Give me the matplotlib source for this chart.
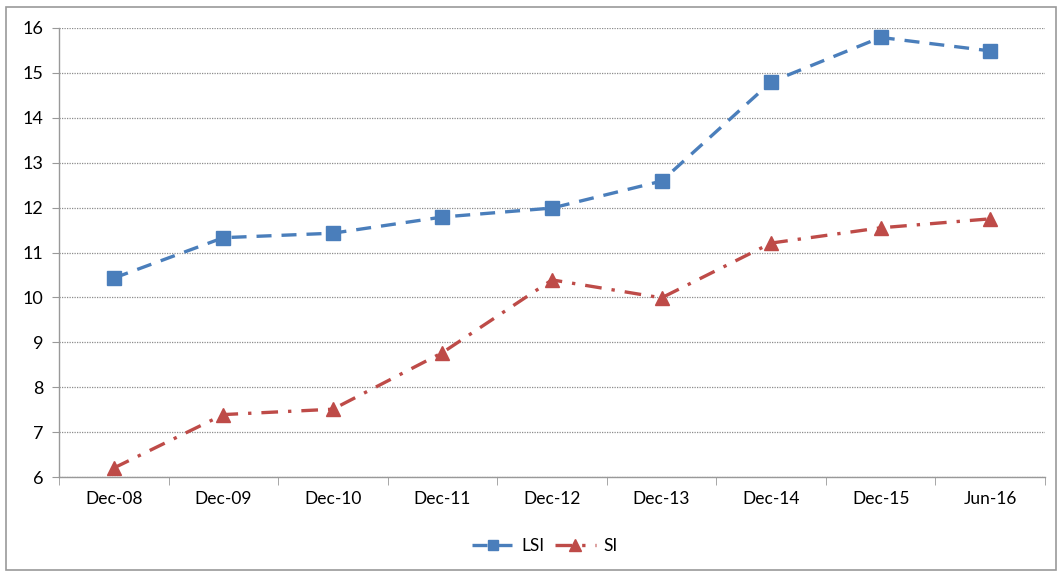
import matplotlib
matplotlib.use("Agg")
import matplotlib.pyplot as plt
from matplotlib.patches import Rectangle
import numpy as np

categories = ["Dec-08", "Dec-09", "Dec-10", "Dec-11", "Dec-12", "Dec-13", "Dec-14", "Dec-15", "Jun-16"]
lsi = [10.43, 11.33, 11.43, 11.79, 11.99, 12.59, 14.80, 15.79, 15.49]
si = [6.20, 7.39, 7.51, 8.77, 10.39, 9.99, 11.21, 11.55, 11.75]
y_ticks = list(range(6, 17))

plt.rcParams['font.family'] = ['Lato', 'DejaVu Sans']

W, H, DPI = 1057, 572, 100
fig = plt.figure(figsize=(W / DPI, H / DPI), dpi=DPI)
ax = fig.add_axes([59 / W, 1 - 477 / H, (1045 - 59) / W, (477 - 28) / H])

x = np.arange(len(categories))
blue = "#4a7ebb"
red = "#be4b48"

ax.plot(x, lsi, color=blue, lw=2.4, dashes=(4.5, 3), marker="s", ms=9.5,
        markerfacecolor=blue, markeredgecolor=blue, label="LSI")
ax.plot(x, si, color=red, lw=2.4, dashes=(5, 3, 1, 3), marker="^", ms=10,
        markerfacecolor=red, markeredgecolor=red, label="SI")

ax.set_xlim(-0.5, len(categories) - 0.5)
ax.set_ylim(6, 16)
ax.set_yticks(y_ticks)
ax.set_xticks(x)
ax.set_xticklabels(categories)
ax.set_xticks(np.arange(-0.5, len(categories)), minor=True)

ax.grid(axis="y", color="#8c8c8c", linestyle=(0, (1, 1)), lw=0.9)
ax.set_axisbelow(True)

for s in ("top", "right"):
    ax.spines[s].set_visible(False)
for s in ("left", "bottom"):
    ax.spines[s].set_color("#999999")
    ax.spines[s].set_linewidth(1.0)

ax.tick_params(axis="x", which="major", length=0, pad=10, labelsize=12.5, colors="#000000")
ax.tick_params(axis="x", which="minor", length=6, color="#999999", direction="out")
ax.tick_params(axis="y", length=5, color="#999999", pad=6, labelsize=13, colors="#000000")

leg = fig.legend(loc="center", bbox_to_anchor=(545 / W, 1 - 546 / H), ncol=2, frameon=False,
                 fontsize=12.5, handlelength=2.4, columnspacing=0.6, handletextpad=0.4,
                 markerscale=0.8)

fig.patches.append(Rectangle((6 / W, 2 / H), (W - 7) / W, (H - 9) / H,
                             transform=fig.transFigure, fill=False,
                             edgecolor="#9a9a9a", lw=1.2))

fig.savefig("out.png", dpi=DPI, facecolor="white")
